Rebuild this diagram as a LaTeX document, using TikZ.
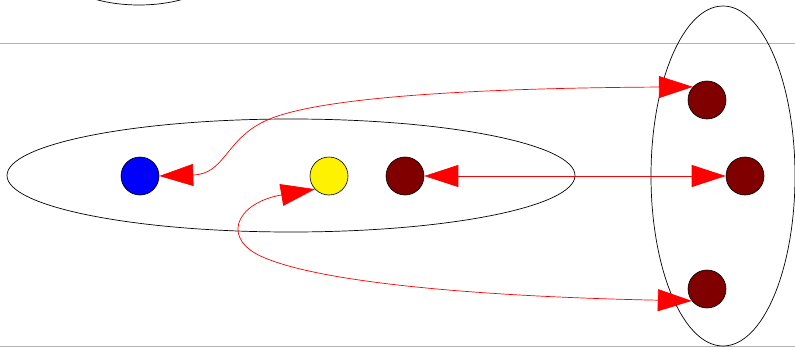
\documentclass[tikz,border=0pt]{standalone}
\usetikzlibrary{arrows.meta}
\definecolor{maroonc}{RGB}{128,0,0}
\definecolor{lineg}{RGB}{178,178,178}
\begin{document}
\begin{tikzpicture}[x=1pt,y=-1pt,
  dot/.style={circle,draw=black,line width=0.6pt,minimum size=38pt,inner sep=0pt},
  link/.style={draw=red,line width=0.7pt,{Triangle[length=34pt,width=22pt]}-{Triangle[length=34pt,width=22pt]}},
  setline/.style={draw=black,line width=0.7pt},
  rule/.style={draw=lineg,line width=0.9pt}]
\useasboundingbox (0,0) rectangle (795,348);
\clip (0,0) rectangle (795,348);
\draw[rule] (0,43.5) -- (795,43.5);
\draw[rule] (0,346.5) -- (795,346.5);
\draw[setline] (139,-35) ellipse [x radius=85pt, y radius=40pt];
\draw[setline] (291,175.5) ellipse [x radius=284pt, y radius=56.5pt];
\draw[setline] (723,176) ellipse [x radius=72pt, y radius=170pt];
\node[dot,fill=blue] (b) at (140,176) {};
\node[dot,fill=yellow] (y) at (329,176) {};
\node[dot,fill=maroonc] (m) at (405,176) {};
\node[dot,fill=maroonc] (r1) at (707,100) {};
\node[dot,fill=maroonc] (r2) at (745,176) {};
\node[dot,fill=maroonc] (r3) at (707,289) {};
\draw[link] (b.east) .. controls (225,174) and (225,140) .. (265,121) .. controls (320,95) and (500,88) .. (r1.137);
\draw[link] (m) -- (r2);
\draw[link] (y.223) .. controls (235,203) and (220,240) .. (265,258) .. controls (330,285) and (500,297) .. (r3.218);
\end{tikzpicture}
\end{document}
